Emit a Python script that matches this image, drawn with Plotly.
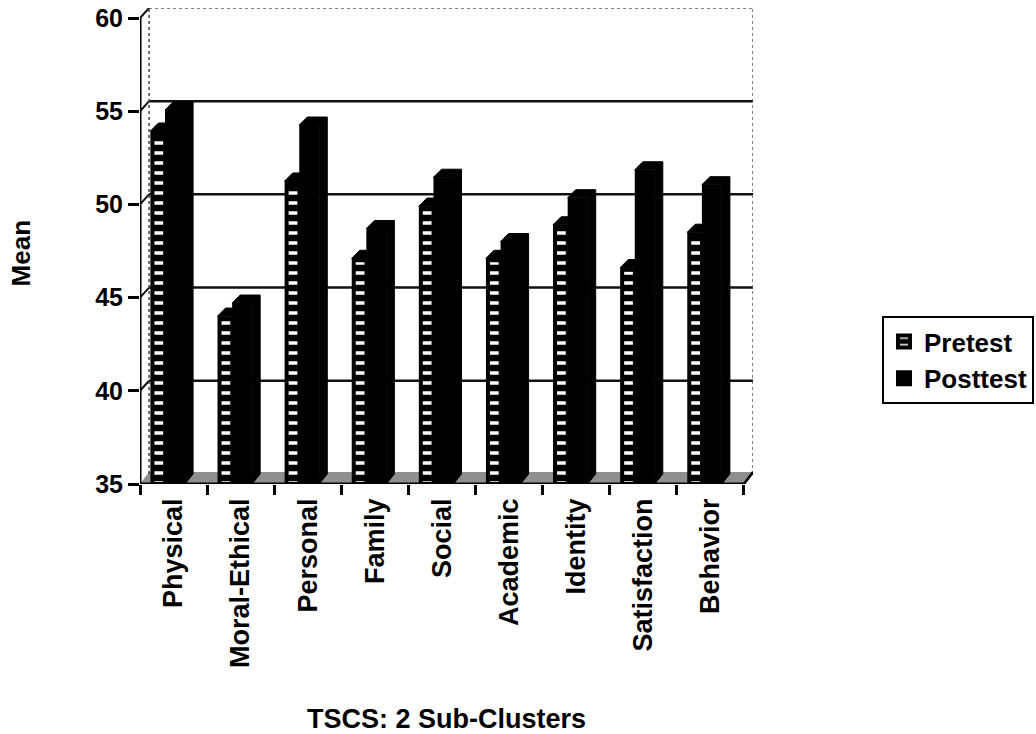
import plotly.graph_objects as go

categories = ["Physical", "Moral-Ethical", "Personal", "Family", "Social",
              "Academic", "Identity", "Satisfaction", "Behavior"]
pretest = [53.83, 43.9, 51.15, 47.0, 49.8, 47.0, 48.8, 46.5, 48.4]
posttest = [54.96, 44.6, 54.15, 48.6, 51.35, 47.9, 50.25, 51.75, 50.95]
y_ticks = [35, 40, 45, 50, 55, 60]

DX, DY = 0.135, 0.54     # depth of the pseudo-3D view, in axis units
BAR_DX = 0.12
OUT_X, OUT_Y = 0.03, 0.107   # half of the bar outline, in axis units
XMIN, XMAX = -0.5, 8.5
FONT = "Liberation Sans"
idx = list(range(len(categories)))
PRE_OFF, PRE_W = -0.315, 0.19
POST_OFF, POST_W = -0.097, 0.238


def depth_poly(values, off, w):
    xs, ys = [], []
    for i, v in enumerate(values):
        l, r = i + off - OUT_X, i + off + w + OUT_X
        xs += [l, l + BAR_DX, r + BAR_DX, r + BAR_DX, r, r, l, None]
        ys += [v + OUT_Y, v + DY, v + DY, 35 + DY, 35, v + OUT_Y, v + OUT_Y, None]
    return xs, ys


fig = go.Figure()
fig.add_bar(x=idx, y=[v - 35 for v in pretest], base=35, offset=PRE_OFF, width=PRE_W, name="Pretest",
            marker=dict(color="black", line=dict(width=4, color="black"),
                        pattern=dict(shape="-", size=10, solidity=0.35, fgcolor="white", fgopacity=1,
                                     bgcolor="black")))
fig.add_bar(x=idx, y=[v - 35 for v in posttest], base=35, offset=POST_OFF, width=POST_W, name="Posttest",
            marker=dict(color="black", line=dict(width=4, color="black")))

for vals, off, w in ((pretest, PRE_OFF, PRE_W), (posttest, POST_OFF, POST_W)):
    xs, ys = depth_poly(vals, off, w)
    fig.add_scatter(x=xs, y=ys, mode="lines", fill="toself", fillcolor="black",
                    line=dict(width=1, color="black"), showlegend=False, hoverinfo="skip")

# axis frame
fig.add_scatter(x=[XMIN, XMIN, XMAX], y=[60, 35, 35], mode="lines",
                line=dict(color="black", width=3), showlegend=False, hoverinfo="skip")
fig.add_scatter(x=[XMAX, XMAX + DX], y=[35, 35 + 0.64], mode="lines",
                line=dict(color="black", width=2.5), showlegend=False, hoverinfo="skip")

shapes = []
# floor
shapes.append(dict(type="path", layer="below", xref="x", yref="y",
                   path=f"M {XMIN} 35 L {XMIN + DX} {35 + 0.64} L {XMAX + DX} {35 + 0.64} L {XMAX} 35 Z",
                   fillcolor="#8f8f8f", line=dict(width=0)))
# back-wall gridlines and left-wall connectors
for t in y_ticks[1:]:
    if t < 60:
        shapes.append(dict(type="line", layer="below", xref="x", yref="y",
                           x0=XMIN + DX, x1=XMAX + DX, y0=t + DY, y1=t + DY,
                           line=dict(color="#111111", width=2.5)))
    shapes.append(dict(type="line", layer="below", xref="x", yref="y",
                       x0=XMIN, x1=XMIN + DX, y0=t, y1=t + DY,
                       line=dict(color="#111111", width=2)))
# wall outline
shapes.append(dict(type="line", layer="below", xref="x", yref="y",
                   x0=XMIN + DX, x1=XMIN + DX, y0=35 + DY, y1=60 + DY,
                   line=dict(color="#444444", width=1.5, dash="dot")))
shapes.append(dict(type="line", layer="below", xref="x", yref="y",
                   x0=XMIN + DX, x1=XMAX + DX, y0=60 + DY, y1=60 + DY,
                   line=dict(color="#555555", width=1.5, dash="dot")))
shapes.append(dict(type="line", layer="below", xref="x", yref="y",
                   x0=XMAX + DX, x1=XMAX + DX, y0=35 + DY, y1=60 + DY,
                   line=dict(color="#555555", width=1.5, dash="dot")))

fig.update_layout(
    width=1036, height=734, autosize=False,
    margin=dict(l=140, r=283, t=8, b=250, autoexpand=False),
    paper_bgcolor="white", plot_bgcolor="white",
    barmode="overlay", showlegend=True, shapes=shapes,
    font=dict(family=FONT, color="black"),
    xaxis=dict(range=[XMIN, XMAX + DX], tickmode="array", tickvals=idx, ticktext=categories,
               tickangle=-90, ticks="", showgrid=False, zeroline=False, ticklabelstandoff=8,
               tickfont=dict(family=FONT, size=27, color="black", weight="bold"),
               minor=dict(tick0=-0.5, dtick=1, ticks="outside", ticklen=10, tickwidth=3,
                          tickcolor="black", showgrid=False),
               title=dict(text="<b>TSCS: 2 Sub-Clusters</b>", font=dict(size=27, family=FONT), standoff=42)),
    yaxis=dict(range=[35, 60 + DY], tickmode="array", tickvals=y_ticks, ticks="outside", ticklen=11,
               tickwidth=3, tickcolor="black", showgrid=False, zeroline=False, ticklabelstandoff=0,
               ticklabeloverflow="allow",
               tickfont=dict(family=FONT, size=25, color="black", weight="bold"),
               title=dict(text="<b>Mean&nbsp;&nbsp;</b>", font=dict(size=26, family=FONT), standoff=57)),
    legend=dict(x=882 / 1036, y=1 - 316 / 734, xref="container", yref="container", xanchor="left", yanchor="top",
                bgcolor="white", bordercolor="black", borderwidth=2,
                font=dict(family=FONT, size=26, color="black", weight="bold"),
                itemwidth=30),
)
fig.write_html("out.html", default_width="1036px", default_height="734px",
               config={"displayModeBar": False},
               post_script="document.body.style.margin='0';")
